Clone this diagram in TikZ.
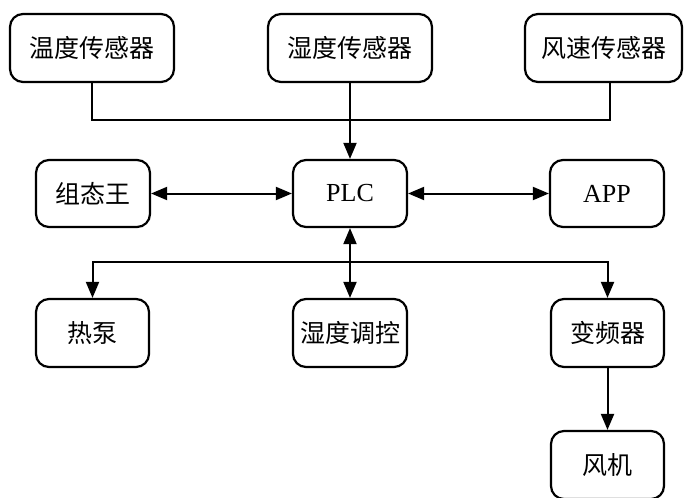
\documentclass[tikz,border=0pt]{standalone}
\usepackage{fontspec}
\setmainfont{Liberation Serif}
\newfontfamily\cjk{Noto Sans CJK SC}
\usetikzlibrary{arrows.meta}
\begin{document}
\begin{tikzpicture}[x=1pt,y=-1pt,
  box/.style={draw,line width=2.2pt,rounded corners=13pt,inner sep=0pt,anchor=center,font=\cjk\fontsize{25}{28}\selectfont},
  lbox/.style={box,font=\fontsize{26}{28}\selectfont},
  conn/.style={line width=2pt},
  arr/.style={conn,-{Triangle[length=16pt,width=13pt]}},
  barr/.style={conn,{Triangle[length=16pt,width=13pt]}-{Triangle[length=16pt,width=13pt]}}]
\useasboundingbox (0,0) rectangle (684,497);
% top row
\node[box,minimum width=164pt,minimum height=68pt] (t1) at (92,48) {温度传感器};
\node[box,minimum width=164pt,minimum height=68pt] (t2) at (350,48) {湿度传感器};
\node[box,minimum width=157pt,minimum height=68pt] (t3) at (603.5,48) {风速传感器};
% middle row
\node[box,minimum width=114pt,minimum height=67pt] (zt) at (93,193.5) {组态王};
\node[lbox,minimum width=114pt,minimum height=67pt] (plc) at (350,193.5) {PLC};
\node[lbox,minimum width=114pt,minimum height=67pt] (app) at (607,193.5) {APP};
% bottom row
\node[box,minimum width=113pt,minimum height=68pt] (rb) at (92.5,333) {热泵};
\node[box,minimum width=114pt,minimum height=68pt] (sd) at (350,333) {湿度调控};
\node[box,minimum width=113pt,minimum height=68pt] (bp) at (607.5,333) {变频器};
\node[box,minimum width=113pt,minimum height=68pt] (fj) at (607.5,465) {风机};
% junction coordinates
\coordinate (jt) at (350,120);
\coordinate (jb) at (350,262);
% top connectors
\draw[conn] (t1.south) |- (jt);
\draw[conn] ([xshift=6.5pt]t3.south) |- (jt);
\draw[arr] (t2.south) -- (plc.north);
% middle connectors
\draw[barr] (zt.east) -- (plc.west);
\draw[barr] (plc.east) -- (app.west);
% bottom connectors
\draw[barr] (plc.south) -- (sd.north);
\draw[arr] (jb) -| (rb.north);
\draw[arr] (jb) -| (bp.north);
\draw[arr] (bp.south) -- (fj.north);
\end{tikzpicture}
\end{document}
